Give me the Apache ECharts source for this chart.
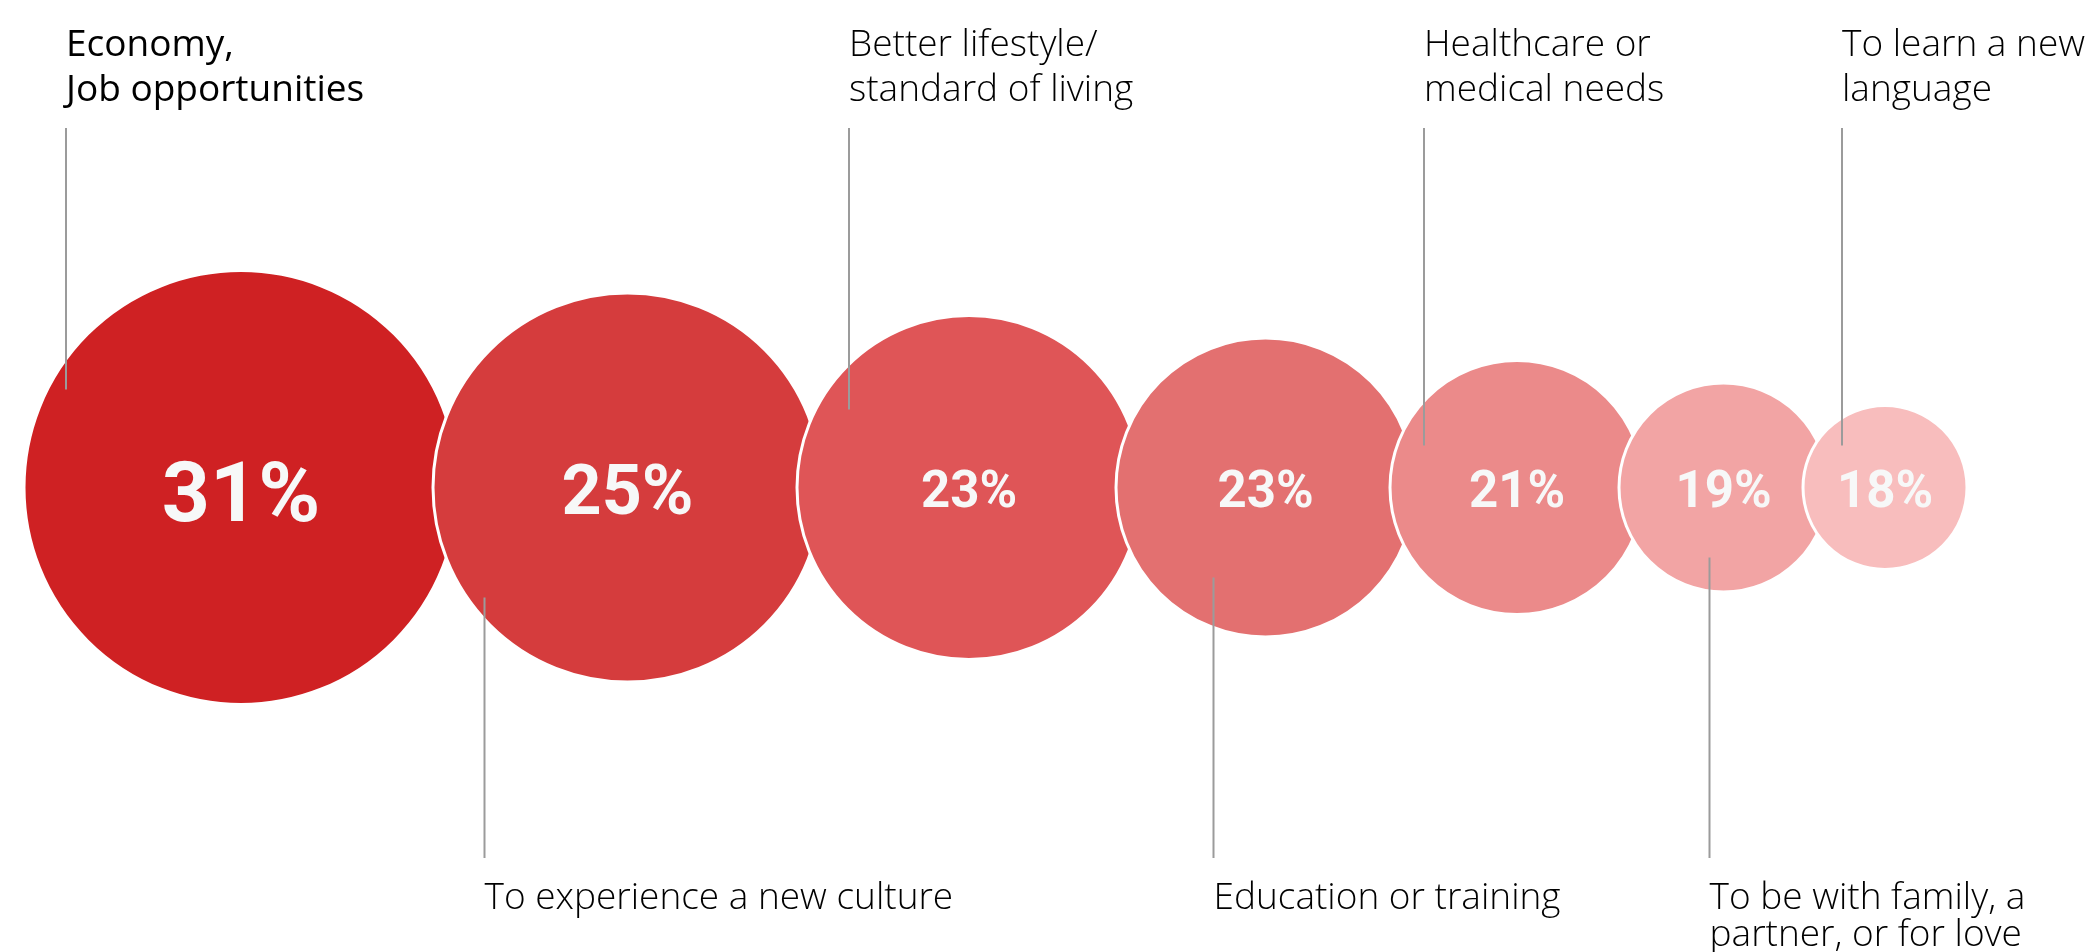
<!DOCTYPE html>
<html>
<head>
<meta charset="utf-8">
<title>Reasons to move abroad</title>
<script src="https://cdn.jsdelivr.net/npm/echarts@6/dist/echarts.min.js"></script>
<style>
  html, body { margin: 0; padding: 0; background: #fff; }
  #chart { width: 2095px; height: 952px; }
</style>
</head>
<body>
<div id="chart"></div>
<script>
// data
const categories = [
  'Economy,\nJob opportunities',
  'To experience a new culture',
  'Better lifestyle/\nstandard of living',
  'Education or training',
  'Healthcare or\nmedical needs',
  'To be with family, a\npartner, or for love',
  'To learn a new\nlanguage'
];
const shares = [31, 25, 23, 23, 21, 19, 18];
const shareLabels = shares.map(v => v + '%');

// layout / style (not data)
const W = 2095, H = 952;
const centerY = 487.5;
const leftEdge = 25.5;
const maxRadius = 215.5;
const radiusStep = 22.5;   // bubbles shrink by rank
const overlap = 22;
const colors = ['#cf2123', '#d53c3d', '#df5557', '#e37070', '#eb8a8a', '#f2a4a4', '#f8bdbd'];
const pctFontSize = [84, 70, 51, 51, 51, 51, 51];
const pctShiftY = [12, 9, 7, 7, 7, 7, 7];
const leaderDx = [-175, -143, -120, -52, -93, -14, -43];
const leaderInset = [98, 110, 78, 90, 42, 70, 42];
const topLineY = 128, bottomLineY = 858;
const topTextY = 23, bottomTextY = 880;
const labelFont = '"Open Sans", sans-serif';

const radii = shares.map((v, i) => maxRadius - radiusStep * i);
const centersX = [];
radii.forEach((r, i) => {
  if (i === 0) centersX.push(leftEdge + r);
  else centersX.push(centersX[i - 1] + radii[i - 1] + r - overlap);
});

const seriesData = shares.map((v, i) => [centersX[i], centerY, v]);

const chart = echarts.init(document.getElementById('chart'));

chart.setOption({
  animation: false,
  backgroundColor: '#ffffff',
  grid: { left: 0, right: 0, top: 0, bottom: 0 },
  xAxis: { type: 'value', min: 0, max: W, show: false },
  yAxis: { type: 'value', min: 0, max: H, inverse: true, show: false },
  series: [{
    type: 'custom',
    data: seriesData,
    renderItem: (params, api) => {
      const i = params.dataIndex;
      const c = api.coord([api.value(0), api.value(1)]);
      const r = api.size([radii[i], 0])[0];
      const onTop = i % 2 === 0;
      const lx = c[0] + leaderDx[i];
      const innerY = onTop ? c[1] - leaderInset[i] : c[1] + leaderInset[i];
      const outerY = onTop ? topLineY : bottomLineY;
      return {
        type: 'group',
        children: [
          {
            type: 'circle',
            shape: { cx: c[0], cy: c[1], r: r + 1.5 },
            style: { fill: colors[i], stroke: '#ffffff', lineWidth: 3 }
          },
          {
            type: 'text',
            style: {
              text: shareLabels[i],
              x: c[0],
              y: c[1] + pctShiftY[i],
              align: 'center',
              verticalAlign: 'middle',
              fill: '#f7f8f8',
              fontFamily: 'Roboto, sans-serif',
              fontWeight: 'bold',
              fontSize: pctFontSize[i]
            }
          },
          {
            type: 'line',
            shape: { x1: lx, y1: outerY, x2: lx, y2: innerY },
            style: { stroke: '#9b9b9b', lineWidth: 2 }
          },
          {
            type: 'text',
            style: {
              text: categories[i],
              x: lx,
              y: onTop ? topTextY : bottomTextY,
              align: 'left',
              verticalAlign: 'top',
              fill: '#000000',
              fontFamily: labelFont,
              fontWeight: i === 0 ? 500 : 300,
              fontSize: 37,
              lineHeight: onTop ? 45 : 37
            }
          }
        ]
      };
    }
  }]
});
</script>
</body>
</html>
